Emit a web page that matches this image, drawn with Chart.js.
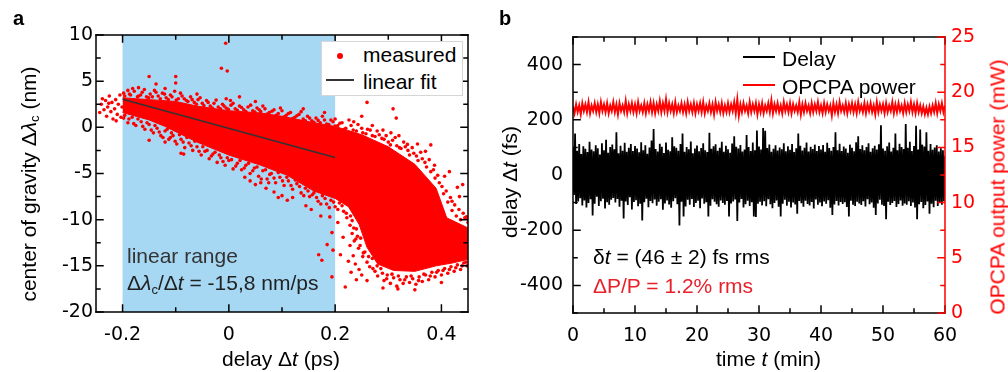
<!DOCTYPE html>
<html>
<head>
<meta charset="utf-8">
<script src="https://cdn.jsdelivr.net/npm/chart.js@4.4.1/dist/chart.umd.min.js"></script>
<style>
  body { margin: 0; background: #fff; }
  #page { position: relative; width: 1008px; height: 372px; overflow: hidden;
          font-family: "Liberation Sans", Arial, sans-serif; }
  .box { position: absolute; top: 0; height: 372px; }
  .txt { position: absolute; white-space: nowrap; font-size: 21px; line-height: 21px; color: #000; pointer-events: none; }
  .rot { position: absolute; white-space: nowrap; font-size: 21px; line-height: 21px; color: #000; pointer-events: none;
         transform: translate(-50%, -50%) rotate(-90deg); }
  sub { font-size: 0.62em; vertical-align: -0.28em; line-height: 0; }
  .leg { position: absolute; left: 321px; top: 41px; width: 140px; height: 53px; background: #fff;
         border: 1px solid #d6d6d6; }
</style>
</head>
<body>
<div id="page">
  <div class="box" style="left:0; width:490px;"><canvas id="chartA"></canvas></div>
  <div class="box" style="left:490px; width:518px;"><canvas id="chartB"></canvas></div>

  <!-- panel a -->
  <div class="txt" style="left:13px; top:8px; font-weight:bold; font-size:20px;">a</div>
  <div class="rot" style="left:28px; top:184px;">center of gravity Δ<i>λ</i><sub>c</sub> (nm)</div>
  <div class="txt" style="left:222px; top:348px;">delay Δ<i>t</i> (ps)</div>
  <div class="txt" style="left:127px; top:245px; color:#333;">linear range</div>
  <div class="txt" style="left:127px; top:272px; color:#222;">Δ<i>λ</i><sub>c</sub>/Δ<i>t</i> = -15,8 nm/ps</div>
  <div class="leg"></div>
  <div style="position:absolute; left:337px; top:53px; width:6px; height:6px; border-radius:50%; background:#ff0000;"></div>
  <div class="txt" style="left:363px; top:44px;">measured</div>
  <div style="position:absolute; left:326px; top:79px; width:28px; height:1.5px; background:#333;"></div>
  <div class="txt" style="left:363px; top:71px;">linear fit</div>

  <!-- panel b -->
  <div class="txt" style="left:499px; top:8px; font-weight:bold; font-size:20px;">b</div>
  <div class="rot" style="left:509px; top:182px;">delay Δ<i>t</i> (fs)</div>
  <div class="rot" style="left:997px; top:187px; color:#ff0000;">OPCPA output power (mW)</div>
  <div class="txt" style="left:716px; top:348px;">time <i>t</i> (min)</div>
  <div style="position:absolute; left:743px; top:56px; width:32px; height:1.5px; background:#000;"></div>
  <div class="txt" style="left:782px; top:48px;">Delay</div>
  <div style="position:absolute; left:743px; top:84px; width:32px; height:1.5px; background:#ff0000;"></div>
  <div class="txt" style="left:782px; top:76px;">OPCPA power</div>
  <div class="txt" style="left:593px; top:246px;">δ<i>t</i> = (46 ± 2) fs rms</div>
  <div class="txt" style="left:593px; top:275px; color:#e8202a;">ΔP/P = 1.2% rms</div>
</div>

<script>
// ---------- panel a: centre of gravity vs delay ----------
const linearRange = [-0.2, 0.2];            // shaded range (ps)
const delayTicks = [-0.2, -0.1, 0, 0.1, 0.2, 0.3, 0.4];
const fitLine = [[-0.2, 3.05], [0.2, -3.27]]; // slope -15.8 nm/ps

// outline of the solid (densely packed) part of the point cloud
const coreTop = [[-0.2, 3.2], [-0.15, 3.0], [-0.1, 2.8], [-0.06, 2.3], [0, 1.8], [0.06, 1.55],
  [0.1, 1.2], [0.16, 0.5], [0.2, 0.1], [0.25, -0.8], [0.3, -2.1], [0.35, -4.0], [0.39, -6.6],
  [0.41, -9.8], [0.45, -10.9]];
const coreBottom = [[-0.2, 1.6], [-0.15, 0.8], [-0.12, 0.1], [-0.06, -1.6], [0, -3.0], [0.06, -4.1],
  [0.11, -5.2], [0.16, -6.9], [0.2, -7.7], [0.225, -8.6], [0.245, -10.5], [0.26, -13.0], [0.28, -14.8],
  [0.31, -15.5], [0.35, -15.6], [0.39, -15.0], [0.42, -14.7], [0.45, -14.3]];

// single measured points around the edges and outliers
const measured = [
  [-0.243,1.6],[-0.24,2.5],[-0.238,3.1],[-0.235,1.9],[-0.232,2.9],[-0.23,1.2],[-0.228,2.2],[-0.225,3.4],
  [-0.222,1.7],[-0.22,2.7],[-0.218,0.9],[-0.215,2.0],[-0.213,3.0],[-0.21,1.4],[-0.208,2.5],[-0.205,3.5],
  [-0.203,1.1],[-0.201,2.2],[-0.212,0.7],[-0.226,2.6],
  [-0.198,3.7],[-0.19,4.0],[-0.185,3.5],[-0.178,3.9],[-0.17,3.4],[-0.163,3.8],[-0.155,3.3],[-0.148,3.6],
  [-0.14,4.0],[-0.133,3.4],[-0.125,3.7],[-0.118,3.2],[-0.11,3.5],[-0.102,3.9],[-0.095,3.1],[-0.088,3.4],
  [-0.08,2.9],[-0.072,3.3],[-0.065,2.7],[-0.058,3.0],[-0.05,2.6],[-0.042,2.9],[-0.035,2.3],[-0.028,2.6],
  [-0.02,2.2],[-0.012,2.5],[-0.005,2.1],[0.004,2.4],[0.012,2.0],[0.02,2.3],[0.028,1.9],[0.036,2.2],
  [0.045,1.8],[0.053,2.1],[0.06,1.7],[0.068,2.0],[0.076,1.6],[0.085,1.9],[0.093,1.5],[0.1,1.8],
  [0.108,1.3],[0.116,1.6],[0.124,1.1],[0.132,1.4],[0.14,0.9],[0.148,1.2],[0.156,0.7],[0.164,1.0],
  [0.172,0.5],[0.18,0.8],[0.188,0.3],[0.196,0.6],[0.205,0.2],[0.213,0.5],[0.22,-0.1],[0.23,0.2],
  [0.24,-0.4],[0.25,-0.1],[0.258,-0.7],[0.266,-0.3],[0.275,-1.0],[0.283,-0.8],[0.292,-1.3],[0.3,-1.6],
  [0.308,-1.4],[0.316,-2.0],[0.324,-2.3],[0.332,-2.1],[0.34,-3.0],[0.348,-2.8],[0.356,-3.6],[0.364,-3.4],
  [0.372,-4.3],[0.38,-4.8],[0.388,-5.5],[0.396,-6.0],[0.404,-7.2],[0.412,-8.1],[0.42,-9.0],[0.428,-9.6],
  [0.436,-10.0],[0.444,-9.8],[0.45,-10.3],
  [-0.196,3.4],[-0.187,3.6],[-0.181,4.2],[-0.172,3.3],[-0.166,3.5],[-0.159,4.1],[-0.151,3.2],[-0.144,3.3],
  [-0.137,3.8],[-0.129,3.1],[-0.121,3.6],[-0.114,3.0],[-0.107,3.3],[-0.099,2.95],[-0.091,3.7],[-0.084,3.1],
  [-0.077,2.8],[-0.069,3.0],[-0.061,2.5],[-0.054,3.2],[-0.047,2.35],[-0.039,2.7],[-0.031,2.1],[-0.024,2.95],
  [-0.016,2.0],[-0.009,2.3],[-0.001,1.95],[0.008,2.6],[0.016,1.85],[0.024,2.15],[0.032,1.7],[0.041,2.4],
  [0.049,1.65],[0.057,1.9],[0.064,2.3],[0.072,1.45],[0.081,1.75],[0.089,1.3],[0.097,2.1],[0.104,1.15],
  [0.112,1.5],[0.12,0.95],[0.128,1.25],[0.136,1.7],[0.144,0.7],[0.152,1.0],[0.16,0.55],[0.168,0.75],
  [0.176,1.2],[0.184,0.35],[0.192,0.8],[0.2,0.15],[0.209,0.45],[0.217,-0.2],[0.226,0.8],[0.234,-0.3],
  [0.243,0.3],[0.252,-0.6],[0.261,-0.2],[0.27,-0.9],[0.279,-0.4],[0.288,-1.2],[0.296,-0.9],[0.304,-1.9],
  [0.313,-1.1],[0.321,-2.2],[0.329,-1.6],[0.337,-2.5],[0.345,-2.2],[0.353,-3.1],[0.361,-2.7],[0.369,-3.8],
  [0.377,-3.5],[0.385,-4.6],[0.393,-5.2],[0.401,-6.4],[0.409,-6.9],[0.417,-7.6],[0.425,-8.4],[0.433,-8.9],
  [0.441,-9.3],[0.449,-9.9],
  [-0.006,9.1],[-0.014,6.4],[-0.003,6.1],[-0.15,5.5],[-0.1,5.5],[-0.1,4.8],[-0.137,4.7],[-0.005,3.1],
  [0.003,2.9],[0.26,2.7],[0.309,2.0],[0.315,1.0],[0.2,0.9],[0.235,0.6],[0.27,0.2],[0.29,-0.3],
  [0.305,-0.6],[0.336,-1.85],[0.38,-1.9],[0.33,-3.9],[0.387,-4.1],[0.406,-5.3],[0.44,-6.2],[0.434,-7.5],
  [0.42,-8.0],[0.447,-9.7],[0.43,-6.5],[0.415,-4.8],[0.37,-2.6],[0.355,-1.8],[0.32,-0.9],[0.25,1.2],
  [0.18,1.6],[-0.06,3.6],[-0.17,4.3],[-0.12,4.2],[0.14,2.0],[0.05,2.8],[0.02,3.3],
  [-0.198,1.0],[-0.19,0.5],[-0.182,1.1],[-0.175,0.2],[-0.165,0.6],[-0.158,-0.2],[-0.15,0.3],[-0.142,-0.6],
  [-0.135,-0.1],[-0.128,-0.9],[-0.12,-0.4],[-0.113,-1.3],[-0.105,-0.9],[-0.098,-1.8],[-0.09,-1.3],[-0.083,-2.2],
  [-0.075,-1.7],[-0.068,-2.5],[-0.06,-2.1],[-0.052,-3.0],[-0.045,-2.6],[-0.037,-3.4],[-0.03,-2.9],[-0.022,-3.8],
  [-0.015,-3.3],[-0.007,-4.1],[0.0,-3.6],[0.008,-4.5],[0.016,-3.9],[0.024,-4.6],[0.032,-4.1],[0.04,-5.0],
  [0.048,-4.4],[0.056,-5.3],[0.064,-4.7],[0.072,-5.6],[0.08,-5.0],[0.088,-6.0],[0.096,-5.4],[0.104,-6.3],
  [0.112,-5.8],[0.12,-6.7],[0.128,-6.1],[0.136,-7.1],[0.144,-6.6],[0.152,-7.5],[0.16,-7.1],[0.168,-8.0],
  [0.176,-7.4],[0.184,-8.3],[0.192,-7.9],[0.2,-8.6],[0.208,-8.2],[0.216,-9.1],[0.222,-9.8],[0.228,-10.6],
  [0.232,-11.5],[0.236,-12.3],[0.24,-11.0],[0.244,-13.1],[0.248,-12.0],[0.252,-14.0],[0.256,-13.5],[0.26,-14.6],
  [0.265,-15.1],[0.27,-14.2],[0.275,-15.6],[0.28,-16.1],[0.286,-15.3],[0.292,-16.6],[0.298,-16.0],[0.304,-16.9],
  [0.31,-16.3],[0.316,-17.2],[0.322,-16.5],[0.328,-16.9],[0.334,-16.2],[0.34,-16.8],[0.346,-16.4],[0.352,-17.0],
  [0.358,-16.2],[0.364,-16.7],[0.37,-16.0],[0.376,-16.5],[0.382,-15.7],[0.388,-16.2],[0.394,-15.5],[0.4,-16.0],
  [0.406,-15.3],[0.412,-15.8],[0.418,-15.1],[0.424,-15.6],[0.43,-14.9],[0.436,-15.4],[0.442,-14.7],[0.448,-15.0],
  [-0.196,1.3],[-0.188,0.9],[-0.179,0.4],[-0.171,0.9],[-0.162,0.1],[-0.154,0.5],[-0.146,-0.3],[-0.139,0.2],
  [-0.131,-0.5],[-0.124,-1.1],[-0.116,-0.2],[-0.108,-0.6],[-0.101,-1.5],[-0.093,-0.8],[-0.086,-1.6],[-0.079,-1.1],
  [-0.071,-2.0],[-0.064,-1.5],[-0.056,-2.6],[-0.049,-2.1],[-0.041,-2.5],[-0.033,-3.1],[-0.026,-2.7],[-0.018,-3.0],
  [-0.011,-3.7],[-0.003,-3.3],[0.005,-3.5],[0.013,-4.2],[0.021,-3.6],[0.029,-4.4],[0.037,-3.9],[0.045,-4.7],
  [0.053,-4.3],[0.061,-5.6],[0.069,-4.6],[0.077,-5.1],[0.085,-5.5],[0.093,-4.9],[0.101,-5.8],[0.109,-5.4],
  [0.117,-6.3],[0.125,-5.7],[0.133,-6.4],[0.141,-7.4],[0.149,-6.9],[0.157,-7.3],[0.165,-7.6],[0.173,-8.3],
  [0.181,-7.7],[0.189,-8.7],[0.197,-8.1],[0.205,-8.9],[0.213,-8.5],[0.221,-9.3],[0.229,-9.6],[0.235,-10.9],
  [0.239,-12.1],[0.247,-12.8],[0.253,-13.6],[0.263,-14.0],[0.271,-15.3],[0.279,-15.0],[0.289,-15.8],[0.297,-16.4],
  [0.307,-15.9],[0.319,-16.1],[0.331,-16.5],[0.343,-16.1],[0.357,-16.6],[0.367,-15.9],[0.379,-16.1],[0.391,-15.7],
  [0.403,-15.5],[0.415,-15.4],[0.427,-15.2],[0.439,-15.0],[0.446,-14.6],
  [-0.15,-1.4],[-0.12,-1.6],[-0.09,-2.8],[-0.085,-2.9],[-0.11,-1.1],[0.173,-9.6],[0.19,-9.7],[0.194,-11.4],
  [0.185,-12.7],[0.196,-13.3],[0.169,-13.8],[0.175,-14.4],[0.194,-16.2],[0.219,-17.3],[0.23,-15.7],[0.21,-13.8],
  [0.215,-11.9],[0.225,-14.5],[0.205,-10.3],[0.24,-16.5],[0.26,-16.6],[0.1,-7.4],[0.12,-7.6],[0.06,-6.0],
  [0.03,-5.4],[0.145,-8.5],[0.155,-8.9],[0.29,-17.4],[0.35,-17.6],[0.4,-16.8],[0.318,-17.5],
  [0.228,-12.8],[0.234,-13.9],[0.238,-14.8],[0.245,-15.4],[0.25,-16.0],[0.242,-11.8],[0.232,-10.1],
  [0.05,-6.2],[0.07,-6.6],[0.085,-7.0],[0.093,-7.6],[0.11,-7.9],[0.04,-5.8],[0.075,-6.0]
];

// ---------- panel b: delay and power over 60 min ----------
const timeSpanMin = 60;
const delayFs = [
  98,-72,150,-105,88,-96,112,-84,76,-110,104,-92,95,-118,83,-101,120,-88,92,-147,
  86,-104,108,-79,97,-112,74,-95,115,-86,90,-121,128,-99,81,-108,101,-90,110,-83,
  93,-100,155,-87,79,-115,106,-93,88,-158,117,-96,84,-109,99,-81,112,-125,87,-98,
  105,-91,96,-113,82,-104,119,-165,90,-99,108,-86,77,-117,100,-94,125,-102,167,-89,
  94,-111,85,-97,113,-88,102,-126,80,-103,118,-92,91,-107,86,-119,137,-95,104,-84,
  99,-106,88,-183,112,-97,150,-150,84,-114,101,-90,93,-108,121,-87,79,-116,96,-101,
  107,-93,86,-120,98,-85,115,-104,90,-99,83,-150,153,-111,95,-88,104,-97,111,-106,
  88,-115,99,-92,120,-101,84,-108,106,-94,93,-150,81,-103,114,-96,140,-89,102,-167,
  96,-100,109,-87,85,-118,92,-106,145,-93,101,-112,87,-99,118,-150,90,-152,161,-104,
  103,-97,92,-110,170,-95,160,-113,98,-88,110,-106,84,-120,95,-101,108,-92,89,-115,
  100,-150,93,-104,115,-90,86,-111,104,-97,91,-118,112,-100,83,-107,97,-140,150,-94,
  106,-102,89,-115,99,-93,118,-105,85,-110,102,-98,94,-121,110,-89,87,-108,105,-100,
  92,-113,109,-96,84,-104,117,-91,98,-119,88,-145,101,-107,155,-94,90,-110,113,-98,
  87,-105,103,-99,96,-116,81,-150,110,-93,99,-108,86,-112,119,-97,140,-103,94,-109,
  108,-95,90,-114,101,-88,115,-106,84,-100,97,-119,106,-145,92,-103,111,-90,180,-108,
  96,-112,88,-160,104,-97,118,-109,85,-101,99,-94,150,-116,90,-105,113,-92,101,-111,
  94,-103,185,-108,99,-95,120,-112,87,-100,105,-118,178,-160,92,-106,165,-98,110,-120,
  103,-109,155,-96,88,-140,112,-104,91,-117,100,-93,108,-112,85,-101,97,-108,90,-95,
  70
];
const powerMW = [
  18.7,18.1,18.9,18.2,18.8,18.0,19.0,18.3,18.9,18.2,19.1,18.1,18.8,18.3,19.0,18.2,18.9,18.1,19.1,18.3,
  18.9,18.2,19.0,18.1,18.8,18.3,19.1,18.2,18.9,18.0,19.0,18.3,18.8,18.2,19.2,18.1,18.9,18.3,19.0,18.2,
  18.9,18.1,19.1,18.3,18.8,18.2,19.0,18.1,18.9,18.3,19.1,18.2,19.0,18.1,18.9,18.3,19.2,18.2,19.0,18.3,
  19.35,18.2,19.0,18.3,18.9,18.1,19.1,18.2,18.8,18.3,19.0,18.2,18.9,18.1,19.1,18.3,18.9,18.2,19.0,18.1,
  18.9,18.3,19.0,18.2,19.1,18.1,18.8,18.3,19.0,18.2,18.9,18.0,19.1,18.3,18.9,18.2,19.0,18.1,18.8,18.2,
  19.0,18.2,18.9,18.3,19.1,18.1,19.35,17.9,18.9,18.2,19.0,18.3,18.8,18.1,19.1,18.2,18.9,18.3,19.0,18.0,
  18.9,18.2,19.0,18.1,18.8,18.3,19.0,18.2,19.25,18.1,18.9,18.3,19.0,18.2,18.8,18.1,19.1,18.3,18.9,18.2,
  19.0,18.1,18.9,18.3,18.8,18.2,19.1,18.0,18.9,18.2,19.0,18.3,18.8,18.1,19.0,18.2,18.9,18.3,19.1,18.2,
  18.8,18.1,19.0,18.2,18.9,18.3,18.8,17.9,19.0,18.2,18.9,18.1,19.1,18.3,18.8,18.2,19.0,18.1,18.9,18.3,
  19.0,18.2,18.9,18.1,19.1,18.3,18.8,18.2,19.0,18.1,18.9,18.3,19.0,18.2,18.8,18.0,19.1,18.2,18.9,18.3,
  18.9,18.1,19.0,18.2,18.8,18.3,19.1,18.1,18.9,18.2,19.0,18.3,18.8,18.1,19.0,18.2,18.9,18.3,19.1,18.2,
  18.9,18.1,19.0,18.2,18.8,18.1,18.7,18.0,18.6,18.0,18.7,18.1,18.8,18.2,19.0,18.1,18.9,18.3,19.0,18.2,
  18.8
];

///////////////////////////////////////////

const red = '#ff0000';
Chart.defaults.font.family = '"DejaVu Sans", sans-serif';
Chart.defaults.font.size = 19;
Chart.defaults.color = '#000';

function isMajor(v, step) {
  const q = v / step;
  return Math.abs(q - Math.round(q)) < 1e-6;
}

// samples are evenly spaced over the measurement time
function withTime(values) {
  const dt = timeSpanMin / (values.length - 1);
  return values.map((v, i) => ({ x: i * dt, y: v }));
}

// box frame with inward ticks, like the original plot software
function frameTicks(sides) {
  return {
    id: 'frameTicks',
    afterDatasetsDraw(chart) {
      const ctx = chart.ctx, a = chart.chartArea;
      ctx.save();
      ctx.lineWidth = 1.5;
      ctx.lineCap = 'square';
      sides.forEach(s => {
        const sc = chart.scales[s.scale];
        ctx.strokeStyle = s.color;
        ctx.beginPath();
        if (s.side == 'left' || s.side == 'right') {
          const x = s.side == 'left' ? a.left : a.right;
          const dir = s.side == 'left' ? 1 : -1;
          ctx.moveTo(x, a.top); ctx.lineTo(x, a.bottom);
          sc.ticks.forEach(t => {
            const y = sc.getPixelForValue(t.value);
            const len = isMajor(t.value, s.major) ? 7 : 4;
            ctx.moveTo(x, y); ctx.lineTo(x + dir * len, y);
          });
        } else {
          const y = s.side == 'top' ? a.top : a.bottom;
          const dir = s.side == 'top' ? 1 : -1;
          ctx.moveTo(a.left, y); ctx.lineTo(a.right, y);
          sc.ticks.forEach(t => {
            const x = sc.getPixelForValue(t.value);
            const len = isMajor(t.value, s.major) ? 7 : 4;
            ctx.moveTo(x, y); ctx.lineTo(x, y + dir * len);
          });
        }
        ctx.stroke();
      });
      ctx.restore();
    }
  };
}

const rangeBand = {
  id: 'rangeBand',
  beforeDatasetsDraw(chart) {
    const { ctx, chartArea: a, scales: { x } } = chart;
    const x0 = x.getPixelForValue(linearRange[0]);
    const x1 = x.getPixelForValue(linearRange[1]);
    ctx.save();
    ctx.fillStyle = 'rgb(166,216,244)';
    ctx.fillRect(x0, a.top, x1 - x0, a.bottom - a.top);
    ctx.restore();
  }
};

const noFrame = { grid: { display: false, drawTicks: false }, border: { display: false } };

const chartA = new Chart(document.getElementById('chartA'), {
  type: 'scatter',
  data: {
    datasets: [
      { data: coreTop, showLine: true, fill: '+1', backgroundColor: red, borderColor: red,
        borderWidth: 1, pointRadius: 0, order: 3 },
      { data: coreBottom, showLine: true, fill: false, borderColor: red, borderWidth: 1, pointRadius: 0, order: 2 },
      { data: measured, backgroundColor: red, borderWidth: 0, pointRadius: 1.8, order: 1 },
      { data: fitLine, showLine: true, borderColor: '#333', borderWidth: 1.5, pointRadius: 0, order: 0 },
    ],
  },
  options: {
    responsive: true,
    maintainAspectRatio: false,
    animation: false,
    devicePixelRatio: 1,
    layout: { padding: { top: 35, right: 22, left: 0, bottom: 0 } },
    plugins: { legend: { display: false }, tooltip: { enabled: false } },
    scales: {
      x: {
        ...noFrame,
        min: -0.25, max: 0.45,
        afterBuildTicks: s => { s.ticks = delayTicks.map(v => ({ value: v })); },
        ticks: {
          autoSkip: false, maxRotation: 0, padding: 12,
          callback: v => isMajor(v, 0.2) ? String(Math.round(v * 10) / 10) : '',
        },
        afterFit: s => { s.height = 60; },
      },
      y: {
        ...noFrame,
        min: -20, max: 10,
        ticks: {
          stepSize: 2.5, includeBounds: false, autoSkip: false, padding: 3,
          callback: v => isMajor(v, 5) ? String(v) : '',
        },
        afterFit: s => { s.width = 96; },
      },
    },
  },
  plugins: [rangeBand, frameTicks([
    { side: 'left', scale: 'y', major: 5, color: '#000' },
    { side: 'right', scale: 'y', major: 5, color: '#000' },
    { side: 'bottom', scale: 'x', major: 0.2, color: '#000' },
    { side: 'top', scale: 'x', major: 0.2, color: '#000' },
  ])],
});

const chartB = new Chart(document.getElementById('chartB'), {
  type: 'line',
  data: {
    datasets: [
      { label: 'Delay', data: withTime(delayFs), yAxisID: 'y', borderColor: '#000', borderWidth: 1.8,
        pointRadius: 0, tension: 0 },
      { label: 'OPCPA power', data: withTime(powerMW), yAxisID: 'y2', borderColor: red, borderWidth: 2,
        pointRadius: 0, tension: 0 },
    ],
  },
  options: {
    responsive: true,
    maintainAspectRatio: false,
    animation: false,
    devicePixelRatio: 1,
    layout: { padding: { top: 37, right: 0, left: 0, bottom: 0 } },
    plugins: { legend: { display: false }, tooltip: { enabled: false } },
    scales: {
      x: {
        ...noFrame,
        type: 'linear', min: 0, max: 60,
        ticks: {
          stepSize: 5, autoSkip: false, maxRotation: 0, padding: 12,
          callback: v => isMajor(v, 10) ? String(v) : '',
        },
        afterFit: s => { s.height = 59; },
      },
      y: {
        ...noFrame,
        position: 'left', min: -500, max: 500,
        ticks: {
          stepSize: 100, autoSkip: false, padding: 10,
          callback: v => isMajor(v, 200) ? String(v) : '',
        },
        afterFit: s => { s.width = 83; },
      },
      y2: {
        ...noFrame,
        position: 'right', min: 0, max: 25,
        ticks: {
          stepSize: 2.5, autoSkip: false, padding: 6, color: red,
          callback: v => isMajor(v, 5) ? String(v) : '',
        },
        afterFit: s => { s.width = 63; },
      },
    },
  },
  plugins: [frameTicks([
    { side: 'left', scale: 'y', major: 200, color: '#000' },
    { side: 'bottom', scale: 'x', major: 10, color: '#000' },
    { side: 'top', scale: 'x', major: 10, color: '#000' },
    { side: 'right', scale: 'y2', major: 5, color: red },
  ])],
});
</script>
</body>
</html>
